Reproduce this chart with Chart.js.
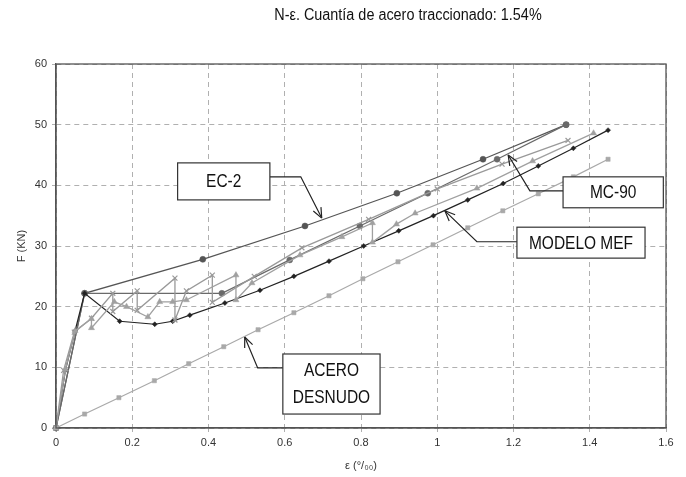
<!DOCTYPE html>
<html>
<head>
<meta charset="utf-8">
<script src="https://cdn.jsdelivr.net/npm/chart.js@4.4.1/dist/chart.umd.min.js"></script>
<style>
  html, body { margin: 0; background: #fff; }
</style>
</head>
<body>
<canvas id="chart" width="686" height="477"></canvas>
<script>
// strain (per mille) / force (kN)
const aceroStrain = [0, 0.075, 0.165, 0.258, 0.348, 0.44, 0.53, 0.624, 0.716, 0.805, 0.897, 0.989, 1.08, 1.172, 1.265, 1.357, 1.448];
const aceroForce  = [0, 2.3, 5.0, 7.8, 10.6, 13.4, 16.2, 19.0, 21.8, 24.6, 27.4, 30.2, 33.0, 35.8, 38.6, 41.4, 44.3];

const ec2Strain = [0, 0.075, 0.385, 0.653, 0.894, 1.12, 1.338];
const ec2Force  = [0, 22.2, 27.8, 33.3, 38.7, 44.3, 50.0];

const mc90Strain = [0, 0.075, 0.435, 0.613, 0.797, 0.975, 1.157, 1.338];
const mc90Force  = [0, 22.2, 22.2, 27.7, 33.3, 38.7, 44.3, 50.0];

const mefStrain = [0, 0.025, 0.05, 0.075, 0.167, 0.259, 0.306, 0.351, 0.443, 0.535, 0.624, 0.716, 0.807, 0.899, 0.99, 1.08, 1.173, 1.265, 1.357, 1.448];
const mefForce  = [0, 9.6, 16.0, 22.2, 17.6, 17.1, 17.6, 18.6, 20.6, 22.7, 25.0, 27.5, 30.0, 32.5, 35.0, 37.6, 40.3, 43.2, 46.1, 49.1];

const ensayo1Strain = [0, 0.02, 0.048, 0.093, 0.149, 0.149, 0.213, 0.213, 0.312, 0.312, 0.342, 0.41, 0.41, 0.52, 0.645, 0.82, 1.0, 1.17, 1.343];
const ensayo1Force  = [0, 9.5, 15.8, 18.1, 22.2, 19.2, 22.6, 19.4, 24.7, 17.8, 22.6, 25.2, 20.7, 25.0, 29.7, 34.4, 39.4, 43.5, 47.4];

const ensayo2Strain = [0, 0.025, 0.05, 0.093, 0.093, 0.153, 0.185, 0.241, 0.272, 0.306, 0.342, 0.472, 0.472, 0.514, 0.64, 0.75, 0.83, 0.83, 0.893, 0.942, 1.104, 1.25, 1.41];
const ensayo2Force  = [0, 9.7, 16.0, 18.0, 16.5, 20.8, 20.0, 18.3, 20.8, 20.8, 21.1, 25.2, 21.1, 23.9, 28.5, 31.5, 33.8, 30.6, 33.6, 35.4, 39.5, 44.0, 48.6];

const xTickLabels = ["0", "0.2", "0.4", "0.6", "0.8", "1", "1.2", "1.4", "1.6"];
const yTickLabels = ["0", "10", "20", "30", "40", "50", "60"];

const toPoints = (xs, ys) => xs.map((x, i) => ({ x: x, y: ys[i] }));

function series(label, xs, ys, color, style, radius, width) {
  return {
    label: label,
    data: toPoints(xs, ys),
    showLine: true,
    borderColor: color,
    backgroundColor: color,
    borderWidth: width,
    pointStyle: style,
    pointRadius: radius,
    pointBorderWidth: style === "crossRot" ? 1.2 : 0.5,
    pointBorderColor: color,
    pointBackgroundColor: color,
    clip: 6
  };
}

// boxes and arrows, in data units
const notes = [
  { lines: ["EC-2"], box: [0.319, 43.7, 0.561, 37.6], arrow: [[0.561, 41.4], [0.642, 41.4], [0.697, 34.6]] },
  { lines: ["MC-90"], box: [1.330, 41.4, 1.593, 36.3], arrow: [[1.330, 39.1], [1.243, 39.1], [1.186, 45.0]] },
  { lines: ["MODELO MEF"], box: [1.209, 33.1, 1.545, 28.0], arrow: [[1.209, 30.7], [1.104, 30.7], [1.020, 35.8]] },
  { lines: ["ACERO", "DESNUDO"], box: [0.595, 12.2, 0.850, 2.3], arrow: [[0.595, 9.9], [0.529, 9.9], [0.495, 15.0]] }
];

// narrow text: squeeze horizontally, no condensed font installed
function narrowText(ctx, text, x, y, sx) {
  ctx.save();
  ctx.translate(x, y);
  ctx.scale(sx, 1);
  ctx.fillText(text, 0, 0);
  ctx.restore();
}

const decorations = {
  id: "decorations",
  afterDraw(chart) {
    const ctx = chart.ctx;
    const xs = chart.scales.x, ys = chart.scales.y;
    const a = chart.chartArea;
    ctx.save();

    // frame
    ctx.strokeStyle = "#555";
    ctx.lineWidth = 1.3;
    ctx.strokeRect(a.left, a.top, a.right - a.left, a.bottom - a.top);

    // title and axis titles
    ctx.fillStyle = "#111";
    ctx.textAlign = "center";
    ctx.textBaseline = "middle";
    ctx.font = "16px 'Liberation Sans', sans-serif";
    narrowText(ctx, "N-\u03b5. Cuant\u00eda de acero traccionado: 1.54%", 408, 16, 0.9);

    ctx.font = "11px 'Liberation Sans', sans-serif";
    ctx.fillStyle = "#333";
    ctx.fillText("\u03b5 (\u00b0/\u2080\u2080)", (a.left + a.right) / 2, 466);
    ctx.save();
    ctx.translate(22, (a.top + a.bottom) / 2);
    ctx.rotate(-Math.PI / 2);
    ctx.fillText("F (KN)", 0, 0);
    ctx.restore();

    // notes
    notes.forEach(n => {
      const pts = n.arrow.map(p => [xs.getPixelForValue(p[0]), ys.getPixelForValue(p[1])]);
      ctx.strokeStyle = "#222";
      ctx.lineWidth = 1.2;
      ctx.beginPath();
      ctx.moveTo(pts[0][0], pts[0][1]);
      pts.slice(1).forEach(p => ctx.lineTo(p[0], p[1]));
      ctx.stroke();
      const tip = pts[pts.length - 1], prev = pts[pts.length - 2];
      const ang = Math.atan2(tip[1] - prev[1], tip[0] - prev[0]);
      ctx.beginPath();
      [-0.4, 0.4].forEach(d => {
        ctx.moveTo(tip[0], tip[1]);
        ctx.lineTo(tip[0] - 11 * Math.cos(ang + d), tip[1] - 11 * Math.sin(ang + d));
      });
      ctx.stroke();

      const x1 = xs.getPixelForValue(n.box[0]), y1 = ys.getPixelForValue(n.box[1]);
      const x2 = xs.getPixelForValue(n.box[2]), y2 = ys.getPixelForValue(n.box[3]);
      ctx.fillStyle = "#fff";
      ctx.fillRect(x1, y1, x2 - x1, y2 - y1);
      ctx.strokeStyle = "#333";
      ctx.lineWidth = 1.2;
      ctx.strokeRect(x1, y1, x2 - x1, y2 - y1);
      ctx.fillStyle = "#111";
      ctx.font = "18px 'Liberation Sans', sans-serif";
      const lh = 27;
      const cy = (y1 + y2) / 2 - (n.lines.length - 1) * lh / 2;
      n.lines.forEach((t, i) => narrowText(ctx, t, (x1 + x2) / 2, cy + i * lh + 1, 0.86));
    });
    ctx.restore();
  }
};

new Chart(document.getElementById("chart"), {
  type: "scatter",
  data: {
    datasets: [
      series("Acero desnudo", aceroStrain, aceroForce, "#a9a9a9", "rect", 3, 1.2),
      series("Ensayo 2", ensayo2Strain, ensayo2Force, "#a0a0a0", "triangle", 3.5, 1.3),
      series("Ensayo 1", ensayo1Strain, ensayo1Force, "#999", "crossRot", 3.5, 1.3),
      series("Modelo MEF", mefStrain, mefForce, "#222", "rectRot", 2.5, 1.2),
      series("MC-90", mc90Strain, mc90Force, "#6a6a6a", "circle", 3, 1.3),
      series("EC-2", ec2Strain, ec2Force, "#555", "circle", 3, 1.2)
    ]
  },
  options: {
    responsive: false,
    animation: false,
    layout: { padding: { top: 64, right: 20, left: 0, bottom: 0 } },
    plugins: { legend: { display: false }, tooltip: { enabled: false } },
    scales: {
      x: {
        type: "linear",
        min: 0, max: 1.6,
        afterFit: s => { s.height = 49; },
        afterBuildTicks: s => { s.ticks = xTickLabels.map(t => ({ value: parseFloat(t) })); },
        ticks: { callback: (v, i) => xTickLabels[i], color: "#333", font: { size: 11, family: "'Liberation Sans', sans-serif" }, padding: 4, maxRotation: 0, autoSkip: false },
        grid: { color: "#b0b0b0", lineWidth: 1, tickLength: 4 },
        border: { display: true, color: "#555", width: 1.3, dash: [5, 4] }
      },
      y: {
        type: "linear",
        min: 0, max: 60,
        afterFit: s => { s.width = 56; },
        afterBuildTicks: s => { s.ticks = yTickLabels.map(t => ({ value: parseFloat(t) })); },
        ticks: { callback: (v, i) => yTickLabels[i], color: "#333", font: { size: 11, family: "'Liberation Sans', sans-serif" }, padding: 5, autoSkip: false },
        grid: { color: "#b0b0b0", lineWidth: 1, tickLength: 4 },
        border: { display: true, color: "#555", width: 1.3, dash: [5, 4] }
      }
    }
  },
  plugins: [decorations]
});
</script>
</body>
</html>
